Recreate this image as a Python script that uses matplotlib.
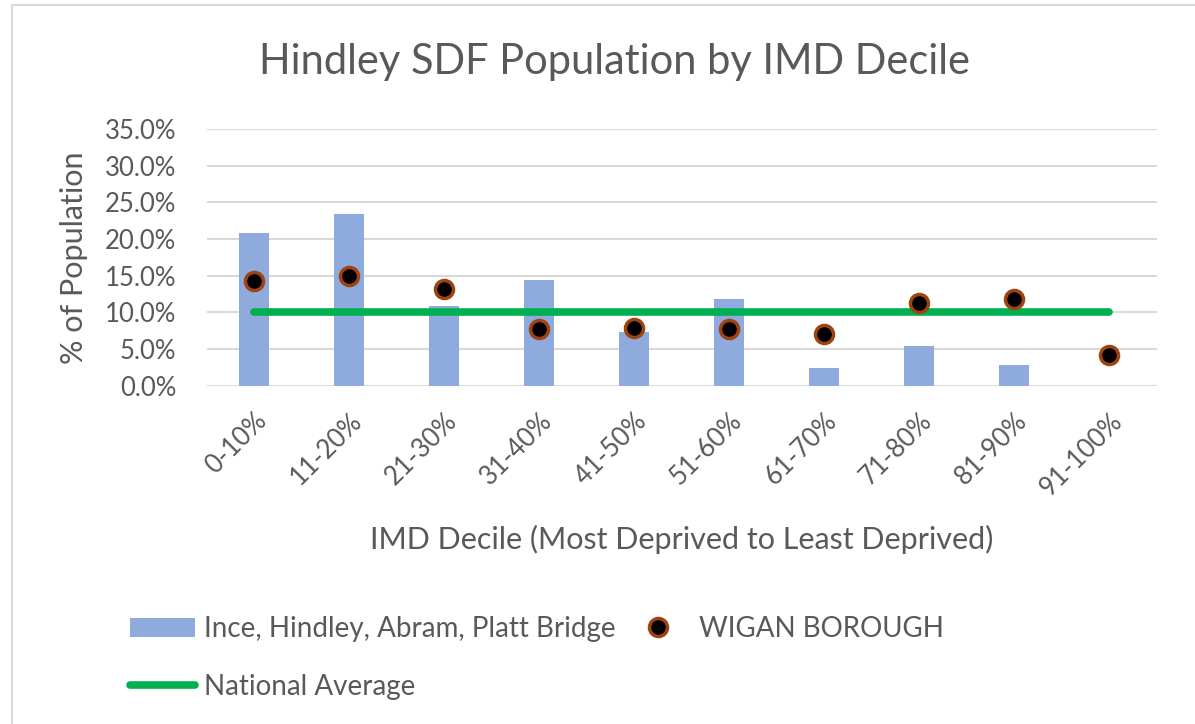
import numpy as np
import matplotlib.pyplot as plt
from matplotlib.patches import Rectangle
from matplotlib.ticker import FuncFormatter

# --- data ---
deciles = ['0-10%', '11-20%', '21-30%', '31-40%', '41-50%',
           '51-60%', '61-70%', '71-80%', '81-90%', '91-100%']
local_pct = [20.8, 23.4, 10.9, 14.4, 7.3, 11.8, 2.4, 5.5, 2.9, 0.0]
wigan_pct = [14.3, 14.9, 13.2, 7.8, 7.9, 7.7, 7.1, 11.3, 11.9, 4.2]
national_pct = [10.0] * len(deciles)

plt.rcParams['font.family'] = ['Lato', 'DejaVu Sans']
text_col = '#595959'

fig = plt.figure(figsize=(11.95, 7.24), dpi=100)
ax = fig.add_axes([0.173, 0.467, 0.795, 0.355])

x = np.arange(len(deciles))
bars = ax.bar(x, local_pct, width=0.32, color='#8FAADC', zorder=2,
              label='Ince, Hindley, Abram, Platt Bridge')
nat, = ax.plot(x, national_pct, color='#00B050', lw=5.5,
               solid_capstyle='round', zorder=3, label='National Average')
wig, = ax.plot(x, wigan_pct, ls='none', marker='o', ms=13, mfc='black',
               mec='#A0440F', mew=2.5, zorder=4, label='WIGAN BOROUGH')

ax.set_xlim(-0.5, len(deciles) - 0.5)
ax.set_ylim(0, 35)
ax.set_yticks(np.arange(0, 36, 5))
ax.yaxis.set_major_formatter(FuncFormatter(lambda v, p: f'{v:.1f}%'))
ax.set_xticks(x)
ax.set_xticklabels(deciles, rotation=45, ha='right', rotation_mode='anchor')
ax.grid(axis='y', color='#D9D9D9', lw=1.5, zorder=0)
ax.set_axisbelow(True)
for s in ax.spines.values():
    s.set_visible(False)
ax.tick_params(length=0, labelsize=18.5, colors=text_col)
ax.tick_params(axis='x', pad=16)
ax.tick_params(axis='y', pad=22)

fig.text(0.514, 0.914, 'Hindley SDF Population by IMD Decile', fontsize=30,
         color=text_col, ha='center', va='center')
ax.set_xlabel('IMD Decile (Most Deprived to Least Deprived)', fontsize=22,
              color=text_col, labelpad=18)
ax.set_ylabel('% of Population', fontsize=22, color=text_col, labelpad=12)

fig.legend([bars, nat, wig],
           ['Ince, Hindley, Abram, Platt Bridge', 'National Average',
            'WIGAN BOROUGH'],
           ncol=2, loc='upper left', bbox_to_anchor=(130 / 1195, 0.149),
           frameon=False, fontsize=20, labelcolor=text_col,
           borderpad=0, borderaxespad=0,
           handlelength=2.35, handletextpad=0.3, columnspacing=0.35,
           labelspacing=1.15)

fig.patches.append(Rectangle((0.010, -0.1), 1.2, 1.093,
                             transform=fig.transFigure, fill=False,
                             ec='#D9D9D9', lw=1.5))

fig.savefig('out.png', dpi=100, facecolor='white')
